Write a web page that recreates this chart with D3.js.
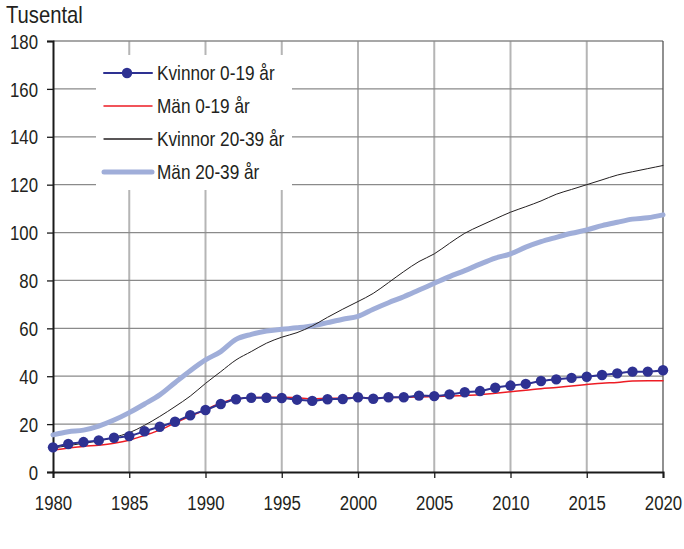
<!DOCTYPE html>
<html>
<head>
<meta charset="utf-8">
<script src="https://cdn.jsdelivr.net/npm/d3@7"></script>
<style>
  body { margin: 0; background: #fff; }
  svg { font-family: "Liberation Sans", Arial, sans-serif; }
</style>
</head>
<body>
<svg id="chart" width="684" height="549"></svg>
<script>
  // years 1980-2020
  const years = d3.range(1980, 2021);

  // thousands
  const kvinnor019 = [10.3, 11.7, 12.5, 13.2, 14.3, 15.0, 17.0, 18.9, 21.0, 23.7,
    25.9, 28.4, 30.4, 31.0, 31.0, 30.9, 30.2, 29.7, 30.4, 30.5,
    31.2, 30.6, 31.2, 31.2, 31.9, 31.7, 32.4, 33.3, 33.8, 35.2,
    36.1, 36.8, 38.0, 38.7, 39.3, 39.8, 40.5, 41.2, 41.9, 41.9, 42.5];
  const man019 = [9.0, 10.0, 10.7, 11.2, 12.0, 13.3, 15.3, 17.5, 20.5, 23.3,
    26.0, 28.8, 30.6, 31.0, 31.2, 31.2, 31.0, 30.6, 30.8, 30.9,
    31.1, 31.0, 31.1, 31.2, 31.3, 31.5, 31.7, 32.0, 32.3, 32.9,
    33.5, 34.1, 34.8, 35.3, 35.9, 36.5, 37.1, 37.4, 38.0, 38.1, 38.1];
  const kvinnor2039 = [10.0, 11.0, 12.0, 13.0, 14.5, 16.4, 19.5, 23.2, 27.3, 31.7,
    37.0, 41.9, 46.8, 50.3, 53.8, 56.3, 58.2, 61.0, 64.6, 68.0,
    71.2, 74.6, 79.1, 83.7, 87.9, 91.1, 95.5, 99.7, 102.8, 105.7,
    108.5, 110.8, 113.2, 116.0, 118.0, 120.0, 122.0, 124.0, 125.4, 126.7, 128.0];
  const man2039 = [15.5, 16.8, 17.5, 19.2, 21.7, 24.8, 28.4, 32.2, 37.3, 42.3,
    46.8, 50.3, 55.4, 57.5, 58.9, 59.6, 60.2, 61.0, 62.4, 63.8,
    65.0, 68.0, 70.7, 73.2, 76.0, 78.8, 81.6, 84.1, 86.8, 89.3,
    91.1, 93.9, 96.2, 98.0, 99.7, 101.1, 102.9, 104.3, 105.6, 106.2, 107.4];

  const yTicks = d3.range(0, 181, 20);
  const xTicks = d3.range(1980, 2021, 5);

  const series = [
    { name: "Män 20-39 år", values: man2039, color: "#a0aed9", width: 5 },
    { name: "Kvinnor 20-39 år", values: kvinnor2039, color: "#231f20", width: 1 },
    { name: "Män 0-19 år", values: man019, color: "#ed1c24", width: 1.5 },
    { name: "Kvinnor 0-19 år", values: kvinnor019, color: "#2e3192", width: 2, dots: true }
  ];
  const legendOrder = ["Kvinnor 0-19 år", "Män 0-19 år", "Kvinnor 20-39 år", "Män 20-39 år"];

  // text in the original is a bit narrow, squeeze it horizontally
  const SX = 0.8;

  const svg = d3.select("#chart");
  const margin = { top: 41, right: 21, bottom: 77, left: 53 };
  const width = 684 - margin.left - margin.right;
  const height = 549 - margin.top - margin.bottom;
  const g = svg.append("g").attr("transform", `translate(${margin.left},${margin.top})`);

  const x = d3.scaleLinear().domain([1980, 2020]).range([0, width]);
  const y = d3.scaleLinear().domain([0, 180]).range([height, 0]);

  // vertical grid
  g.append("g")
    .selectAll("line")
    .data(xTicks.slice(1, -1))
    .join("line")
    .attr("x1", d => x(d)).attr("x2", d => x(d))
    .attr("y1", 0).attr("y2", height)
    .attr("stroke", "#b5b5b5")
    .attr("stroke-width", 2);

  // horizontal grid
  g.append("g")
    .selectAll("line")
    .data(yTicks.slice(1))
    .join("line")
    .attr("x1", 0).attr("x2", width)
    .attr("y1", d => y(d)).attr("y2", d => y(d))
    .attr("stroke", "#8a8a8a")
    .attr("stroke-width", 1.3);

  // right border
  g.append("line")
    .attr("x1", width).attr("x2", width)
    .attr("y1", 0).attr("y2", height)
    .attr("stroke", "#555")
    .attr("stroke-width", 1.3);

  // axes
  const yAxis = g.append("g")
    .call(d3.axisLeft(y).tickValues(yTicks).tickSize(6));
  const xAxis = g.append("g")
    .attr("transform", `translate(0,${height})`)
    .call(d3.axisBottom(x).tickValues(xTicks).tickFormat(d3.format("d")).tickSize(6));
  [yAxis, xAxis].forEach(a => {
    a.select(".domain").attr("stroke", "#1a1a1a").attr("stroke-width", 2);
    a.selectAll(".tick line").attr("stroke", "#1a1a1a").attr("stroke-width", 1.3);
    a.selectAll(".tick text")
      .attr("fill", "#231f20")
      .style("font-size", "21px")
      .attr("transform", `scale(${SX},1)`);
  });
  yAxis.selectAll(".tick text").attr("x", -15 / SX).attr("dy", "0.34em");
  xAxis.selectAll(".tick text").attr("y", 38).attr("dy", 0);

  svg.append("text")
    .attr("x", 6 / 0.88).attr("y", 23)
    .attr("transform", "scale(0.88,1)")
    .attr("fill", "#231f20")
    .style("font-size", "23px")
    .text("Tusental");

  // lines
  const line = d3.line()
    .x((d, i) => x(years[i]))
    .y(d => y(d))
    .curve(d3.curveMonotoneX);

  series.forEach(s => {
    g.append("path")
      .datum(s.values)
      .attr("fill", "none")
      .attr("stroke", s.color)
      .attr("stroke-width", s.width)
      .attr("stroke-linejoin", "round")
      .attr("stroke-linecap", "round")
      .attr("d", line);
    if (s.dots) {
      g.append("g")
        .selectAll("circle")
        .data(s.values)
        .join("circle")
        .attr("cx", (d, i) => x(years[i]))
        .attr("cy", d => y(d))
        .attr("r", 5.2)
        .attr("fill", s.color);
    }
  });

  // legend
  const legend = svg.append("g");
  legend.append("rect")
    .attr("x", 96).attr("y", 55)
    .attr("width", 196).attr("height", 135)
    .attr("fill", "#fff");
  legendOrder.forEach((name, i) => {
    const s = series.find(d => d.name === name);
    const ly = 73 + i * 33;
    legend.append("line")
      .attr("x1", 104).attr("x2", 152)
      .attr("y1", ly).attr("y2", ly)
      .attr("stroke", s.color)
      .attr("stroke-width", s.width === 1 ? 1.3 : s.width)
      .attr("stroke-linecap", "round");
    if (s.dots) {
      legend.append("circle")
        .attr("cx", 127).attr("cy", ly).attr("r", 5.2).attr("fill", s.color);
    }
    legend.append("text")
      .attr("x", 157 / 0.82).attr("y", ly + 7)
      .attr("transform", "scale(0.82,1)")
      .attr("fill", "#231f20")
      .style("font-size", "21px")
      .text(name);
  });
</script>
</body>
</html>
